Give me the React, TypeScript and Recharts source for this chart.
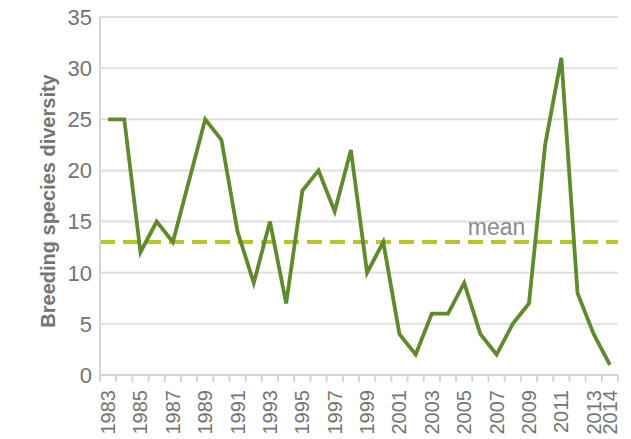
import React from 'react';
import {
  LineChart,
  Line,
  XAxis,
  YAxis,
  CartesianGrid,
  ReferenceLine,
  ReferenceDot,
} from 'recharts';

const years = [
  1983, 1984, 1985, 1986, 1987, 1988, 1989, 1990, 1991, 1992, 1993, 1994, 1995, 1996, 1997, 1998,
  1999, 2000, 2001, 2002, 2003, 2004, 2005, 2006, 2007, 2008, 2009, 2010, 2011, 2012, 2013, 2014,
];
const diversity = [
  25, 25, 12, 15, 13, 19, 25, 23, 14, 9, 15, 7, 18, 20, 16, 22,
  10, 13, 4, 2, 6, 6, 9, 4, 2, 5, 7, 22.5, 31, 8, 4, 1,
];
const yearLabels = [
  1983, 1985, 1987, 1989, 1991, 1993, 1995, 1997, 1999, 2001, 2003, 2005, 2007, 2009, 2011, 2013, 2014,
];
const yTicks = [0, 5, 10, 15, 20, 25, 30, 35];
const meanValue = 13;
const meanLabelYear = 2007;

const data = years.map((year, i) => ({ year, value: diversity[i] }));
const boundaryTicks = [...years.map((y) => y - 0.5), years[years.length - 1] + 0.5];
const xDomain = [years[0] - 0.5, years[years.length - 1] + 0.5];

const FONT = '"Liberation Sans", Arial, sans-serif';
const GRAY = '#747474';

const YearTick = (props: any) => {
  const { x, y, payload } = props;
  return (
    <text
      x={x}
      y={y}
      transform={`rotate(-90, ${x}, ${y})`}
      textAnchor="end"
      dominantBaseline="central"
      fontSize={20}
      fontFamily={FONT}
      fill={GRAY}
    >
      {payload.value}
    </text>
  );
};

const YLabel = (props: any) => {
  const { viewBox } = props;
  const cx = viewBox.x + 40;
  const cy = viewBox.y + viewBox.height / 2 + 5;
  return (
    <text
      x={cx}
      y={cy}
      transform={`rotate(-90, ${cx}, ${cy})`}
      textAnchor="middle"
      dominantBaseline="central"
      fontSize={20}
      fontWeight="bold"
      fontFamily={FONT}
      fill={GRAY}
    >
      Breeding species diversity
    </text>
  );
};

export default function App() {
  return (
    <div style={{ width: 631, height: 439, marginTop: -8, marginLeft: -8 }}>
      <LineChart
        width={631}
        height={439}
        data={data}
        margin={{ top: 17, right: 13, bottom: 0, left: 8 }}
      >
        <CartesianGrid xAxisId="yr" vertical={false} stroke="#e0e0e0" strokeWidth={2} />
        <XAxis
          xAxisId="bounds"
          dataKey="year"
          type="number"
          domain={xDomain}
          ticks={boundaryTicks}
          tickFormatter={() => ''}
          axisLine={{ stroke: '#d6d6d6', strokeWidth: 2 }}
          tickLine={{ stroke: '#d6d6d6', strokeWidth: 2 }}
          tickSize={7}
          height={8}
          interval={0}
        />
        <XAxis
          xAxisId="yr"
          dataKey="year"
          type="number"
          domain={xDomain}
          ticks={yearLabels}
          axisLine={false}
          tickLine={false}
          tickSize={0}
          tickMargin={7}
          height={56}
          interval={0}
          tick={<YearTick />}
        />
        <YAxis
          domain={[0, 35]}
          ticks={yTicks}
          width={92}
          axisLine={{ stroke: '#d6d6d6', strokeWidth: 2 }}
          tickLine={false}
          tick={{ fontSize: 22, fill: GRAY, fontFamily: FONT }}
          interval={0}
          label={<YLabel />}
        />
        <ReferenceLine
          xAxisId="yr"
          y={meanValue}
          stroke="#b9c62a"
          strokeWidth={4}
          strokeDasharray="15 8"
        />
        <ReferenceDot
          xAxisId="yr"
          x={meanLabelYear}
          y={meanValue}
          r={1}
          fill="none"
          stroke="none"
          label={{ value: 'mean', position: 'top', offset: 6, fontSize: 23, fill: '#8a8a8a', fontFamily: FONT }}
        />
        <Line
          xAxisId="yr"
          type="linear"
          dataKey="value"
          stroke="#608a2e"
          strokeWidth={3.8}
          dot={false}
          isAnimationActive={false}
        />
      </LineChart>
    </div>
  );
}
